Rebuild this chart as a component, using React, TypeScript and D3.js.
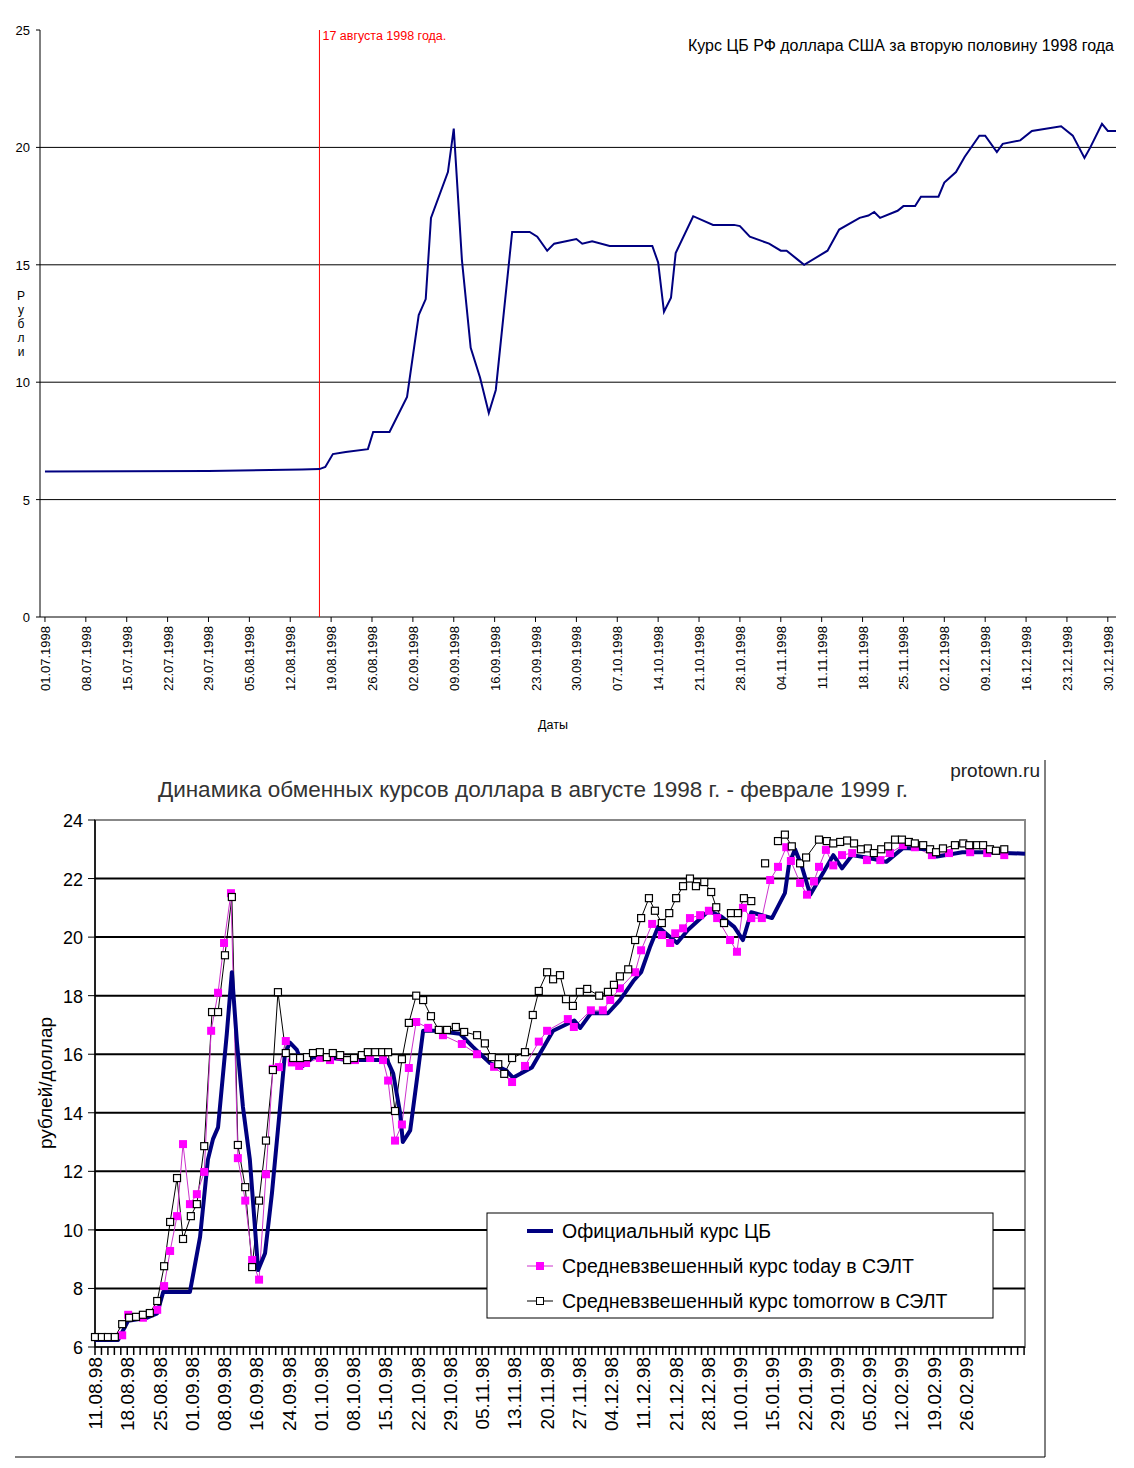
import React from 'react';
import * as d3 from 'd3';

// top chart: [days since 01.07.1998, rate]
const cbRate1998: [number, number][] = [
  [0, 6.2], [28, 6.22], [44, 6.28], [47, 6.3], [48, 6.39], [49.3, 6.94], [51.5, 7.03], [55.3, 7.15],
  [56.2, 7.88], [59, 7.88], [62, 9.37], [64, 12.86], [65.2, 13.54], [66.1, 17.0], [69, 18.95], [70, 20.8],
  [71.4, 15.2], [72.9, 11.46], [74.5, 10.2], [76, 8.69], [77.2, 9.67], [80, 16.4], [83, 16.4], [84.3, 16.2],
  [86, 15.6], [87.2, 15.9], [91, 16.1], [92, 15.9], [93.7, 16.0], [96.7, 15.8], [104, 15.8], [105, 15.1],
  [106, 13.0], [107.2, 13.6], [108, 15.5], [111, 17.07], [114.4, 16.7], [118, 16.7], [119, 16.65],
  [120.7, 16.2], [124, 15.9], [126, 15.6], [127, 15.6], [129, 15.2], [130, 15.0], [134, 15.6], [136, 16.5],
  [139.5, 17.0], [141, 17.1], [142, 17.25], [143, 17.0], [146, 17.3], [147, 17.5], [149, 17.5], [150, 17.9],
  [153, 17.9], [154, 18.5], [156, 18.95], [157.5, 19.6], [160, 20.5], [161, 20.5], [163, 19.8], [164, 20.15],
  [167, 20.3], [169, 20.7], [174, 20.9], [176, 20.5], [178, 19.55], [179, 20.0], [181, 21.0], [182, 20.7],
  [183.4, 20.7]
];
const topYTicks = [0, 5, 10, 15, 20, 25];

// bottom chart: [position in category units (7 per label), rate]
const official: [number, number][] = [
  [0, 6.24], [5, 6.24], [7.2, 6.9], [11.3, 7.0], [13.5, 7.15], [14.8, 7.88], [20.6, 7.88], [22.8, 9.76],
  [24.5, 12.4], [25.6, 13.1], [26.7, 13.5], [28.6, 16.7], [29.7, 18.8], [30.8, 16.4], [32.1, 14.2],
  [33.6, 12.4], [35.4, 8.63], [36.9, 9.2], [38.4, 11.26], [40.1, 14.1], [41.2, 16.0], [42.3, 16.4],
  [43.8, 16.15], [45.1, 15.6], [47.3, 15.9], [50.3, 15.9], [54.7, 15.8], [63.4, 15.8], [64.7, 15.35],
  [66.2, 14.0], [66.8, 13.0], [68.4, 13.4], [69.9, 15.2], [71.2, 16.8], [73.8, 16.8], [79.2, 16.7],
  [82, 16.25], [85.7, 15.7], [89.2, 15.45], [90.7, 15.2], [94.8, 15.55], [99.4, 16.8], [104, 17.15],
  [105.3, 16.9], [107.6, 17.4], [111.3, 17.4], [113.9, 17.85], [116.8, 18.5], [118.5, 18.8], [120.4, 19.65],
  [122.2, 20.35], [124.1, 20.1], [126.3, 19.8], [128.7, 20.25], [133.2, 20.9], [135.9, 20.7], [138.7, 20.35],
  [140.6, 19.9], [142.4, 20.85], [146.9, 20.65], [149.7, 21.5], [150.6, 22.5], [151.9, 23.0], [153.4, 22.4],
  [155.2, 21.45], [158, 22.2], [160.2, 22.8], [162.1, 22.35], [164.3, 22.8], [168, 22.7], [171.7, 22.57],
  [175.3, 23.04], [180.8, 23.0], [182.7, 22.75], [188.2, 22.9], [192.7, 22.9], [201.8, 22.85]
];
const today: [number, number][] = [
  [5.9, 6.4], [7.2, 7.1], [10.4, 7.0], [13.5, 7.27], [15.0, 8.08], [16.3, 9.28], [17.8, 10.47], [19.1, 12.93],
  [20.6, 10.88], [22.1, 11.22], [23.7, 11.98], [25.2, 16.8], [26.7, 18.1], [28.0, 19.8], [29.5, 21.5],
  [31.0, 12.45], [32.6, 11.0], [34.1, 8.97], [35.6, 8.3], [37.1, 11.9], [38.6, 15.5], [39.9, 15.56],
  [41.4, 16.45], [42.7, 15.72], [44.3, 15.6], [45.8, 15.7], [48.8, 15.87], [51.0, 15.8], [53.2, 15.92],
  [56.4, 15.8], [59.7, 15.87], [62.5, 15.8], [63.6, 15.1], [65.1, 13.05], [66.6, 13.6], [68.1, 15.53],
  [69.7, 17.1], [72.3, 16.9], [75.5, 16.65], [79.6, 16.35], [82.9, 16.0], [86.6, 15.57], [90.5, 15.05],
  [93.3, 15.6], [96.3, 16.43], [98.1, 16.8], [102.6, 17.2], [103.9, 16.93], [107.6, 17.5], [110.2, 17.5],
  [111.8, 17.85], [113.9, 18.25], [117.2, 18.8], [118.5, 19.55], [120.9, 20.45], [123.0, 20.07], [124.8, 19.8],
  [125.9, 20.13], [127.6, 20.3], [129.1, 20.65], [131.3, 20.75], [133.2, 20.9], [135.0, 20.65], [137.8, 19.9],
  [139.3, 19.5], [140.6, 21.0], [142.4, 20.65], [144.7, 20.65], [146.5, 21.95], [148.2, 22.4], [150.0, 23.07],
  [151.0, 22.6], [153.0, 21.85], [154.5, 21.45], [156.0, 21.9], [157.1, 22.4], [158.6, 22.98], [160.2, 22.45],
  [162.1, 22.8], [164.3, 22.87], [167.5, 22.63], [170.4, 22.63], [172.5, 22.87], [175.3, 23.14], [177.9, 23.07],
  [181.6, 22.8], [185.3, 22.87], [189.9, 22.9], [193.6, 22.87], [197.3, 22.8]
];
const tomorrow: [number, number | null][] = [
  [0, 6.34], [1.5, 6.34], [2.8, 6.34], [4.3, 6.34], [5.9, 6.78], [7.4, 7.0], [8.9, 7.03], [10.4, 7.1],
  [11.9, 7.16], [13.5, 7.57], [15.0, 8.76], [16.3, 10.27], [17.8, 11.77], [19.1, 9.69], [20.8, 10.47],
  [22.1, 10.88], [23.7, 12.86], [25.4, 17.44], [26.7, 17.44], [28.2, 19.38], [29.7, 21.37], [31.0, 12.9],
  [32.6, 11.46], [34.1, 8.73], [35.6, 11.0], [37.1, 13.05], [38.6, 15.46], [39.7, 18.12], [41.4, 16.04],
  [43.0, 15.87], [44.5, 15.87], [46.0, 15.9], [47.3, 16.04], [48.8, 16.07], [50.3, 15.9], [51.6, 16.04],
  [53.2, 15.97], [54.7, 15.8], [56.2, 15.87], [57.9, 15.97], [59.2, 16.07], [60.8, 16.07], [62.3, 16.07],
  [63.6, 16.07], [65.1, 14.06], [66.6, 15.83], [68.1, 17.07], [69.7, 18.0], [71.2, 17.85], [72.9, 17.3],
  [74.6, 16.83], [76.4, 16.83], [78.3, 16.93], [80.1, 16.76], [82.9, 16.65], [84.6, 16.37], [86.1, 15.9],
  [87.5, 15.66], [88.8, 15.33], [90.5, 15.87], [93.3, 16.07], [95.0, 17.34], [96.3, 18.16], [98.1, 18.8],
  [99.4, 18.56], [100.9, 18.7], [102.2, 17.88], [103.7, 17.65], [105.2, 18.13], [106.8, 18.23], [109.4, 18.0],
  [111.3, 18.13], [112.6, 18.37], [113.9, 18.66], [115.7, 18.9], [117.2, 19.9], [118.5, 20.65], [120.2, 21.33],
  [121.5, 20.9], [123.0, 20.48], [124.6, 20.82], [126.1, 21.33], [127.6, 21.74], [129.1, 22.0], [130.4, 21.74],
  [132.2, 21.88], [133.7, 21.54], [134.8, 21.02], [136.5, 20.48], [138.0, 20.82], [139.5, 20.82], [140.8, 21.33],
  [142.4, 21.23], [143.9, null], [145.4, 22.52], [146.8, null], [148.2, 23.28], [149.7, 23.5], [151.2, 23.1],
  [153.0, 22.52], [154.3, 22.72], [157.1, 23.33], [158.8, 23.28], [160.2, 23.2], [161.7, 23.25], [163.2, 23.3],
  [164.7, 23.2], [166.2, 23.0], [167.7, 23.03], [169.0, 22.87], [170.6, 23.0], [172.1, 23.1], [173.6, 23.33],
  [175.1, 23.33], [176.6, 23.25], [177.9, 23.2], [179.7, 23.14], [181.2, 23.0], [182.5, 22.9], [184.0, 23.03],
  [186.6, 23.14], [188.4, 23.2], [189.7, 23.14], [191.4, 23.14], [192.7, 23.14], [194.2, 23.0], [195.5, 22.95],
  [197.3, 23.0]
];
const bottomLabels = [
  '11.08.98', '18.08.98', '25.08.98', '01.09.98', '08.09.98', '16.09.98', '24.09.98', '01.10.98',
  '08.10.98', '15.10.98', '22.10.98', '29.10.98', '05.11.98', '13.11.98', '20.11.98', '27.11.98',
  '04.12.98', '11.12.98', '21.12.98', '28.12.98', '10.01.99', '15.01.99', '22.01.99', '29.01.99',
  '05.02.99', '12.02.99', '19.02.99', '26.02.99'
];
const bottomYTicks = [6, 8, 10, 12, 14, 16, 18, 20, 22, 24];
const legendLabels = ['Официальный курс ЦБ', 'Средневзвешенный курс today в СЭЛТ', 'Средневзвешенный курс tomorrow в СЭЛТ'];

const DAY = 86400000;
const base1 = new Date(1998, 6, 1).getTime();
const fmt = d3.timeFormat('%d.%m.%Y');

const App: React.FC = () => {
  // ---- top chart
  const tx = d3.scaleLinear().domain([-0.85, 183.4]).range([40, 1116]);
  const ty = d3.scaleLinear().domain([0, 25]).range([617, 30]);
  const topLine = d3.line<[number, number]>().x(d => tx(d[0])).y(d => ty(d[1]));
  const topDays = d3.range(0, 183, 7);
  const augDay = (new Date(1998, 7, 17).getTime() - base1) / DAY;

  // ---- bottom chart
  const bx = d3.scaleLinear().domain([0, 201.8]).range([95, 1025]);
  const by = d3.scaleLinear().domain([6, 24]).range([1347, 820]);
  const line2 = d3.line<[number, number | null]>()
    .defined(d => d[1] !== null)
    .x(d => bx(d[0])).y(d => by(d[1] as number));
  const tickPos = d3.range(0, 202, 1.4);

  const font = 'Arial, "Liberation Sans", sans-serif';

  return (
    <svg width={1134} height={1468} style={{ position: 'absolute', left: 0, top: 0, background: '#fff' }} fontFamily={font}>
      <rect width={1134} height={1468} fill="#fff" />
      {/* TOP */}
      {topYTicks.map(t => (
        <g key={t}>
          {t > 0 && t < 25 && <line x1={40} x2={1116} y1={ty(t)} y2={ty(t)} stroke="#000" strokeWidth={1} />}
          <line x1={36} x2={40} y1={ty(t)} y2={ty(t)} stroke="#000" />
          <text x={30} y={ty(t) + 5} fontSize={13} textAnchor="end">{t}</text>
        </g>
      ))}
      <line x1={40} x2={40} y1={30} y2={617} stroke="#000" />
      <line x1={40} x2={1116} y1={617} y2={617} stroke="#000" />
      {topDays.map(d => (
        <g key={d}>
          <line x1={tx(d)} x2={tx(d)} y1={617} y2={622} stroke="#000" />
          <text transform={`translate(${tx(d) + 5},626) rotate(-90)`} fontSize={13} textAnchor="end">
            {fmt(new Date(base1 + d * DAY))}
          </text>
        </g>
      ))}
      <line x1={tx(augDay)} x2={tx(augDay)} y1={30} y2={617} stroke="#ff0000" strokeWidth={1} />
      <text x={tx(augDay) + 3} y={40} fontSize={12.5} fill="#ff0000">17 августа 1998 года.</text>
      <path d={topLine(cbRate1998) ?? ''} fill="none" stroke="#000080" strokeWidth={2} />
      <text x={1114} y={51} fontSize={16} textAnchor="end">Курс ЦБ РФ доллара США за вторую половину 1998 года</text>
      {'Рубли'.split('').map((c, i) => (
        <text key={i} x={21} y={300 + i * 14} fontSize={12} textAnchor="middle">{c}</text>
      ))}
      <text x={553} y={729} fontSize={12.5} textAnchor="middle">Даты</text>

      {/* BOTTOM */}
      <line x1={1045} x2={1045} y1={760} y2={1457} stroke="#000" />
      <line x1={15} x2={1045} y1={1457} y2={1457} stroke="#000" />
      <text x={1040} y={777} fontSize={19} textAnchor="end" fill="#222">protown.ru</text>
      <text x={533} y={797} fontSize={22.5} textAnchor="middle" fill="#333">
        Динамика обменных курсов доллара в августе 1998 г. - феврале 1999 г.
      </text>
      <rect x={95} y={820} width={930} height={527} fill="none" stroke="#888" strokeWidth={2} />
      {bottomYTicks.map(t => (
        <g key={t}>
          {t > 6 && t < 24 && <line x1={95} x2={1025} y1={by(t)} y2={by(t)} stroke="#000" strokeWidth={2} />}
          <line x1={88} x2={95} y1={by(t)} y2={by(t)} stroke="#000" />
          <text x={83} y={by(t) + 7} fontSize={18} textAnchor="end">{t}</text>
        </g>
      ))}
      <line x1={95} x2={95} y1={820} y2={1347} stroke="#000" strokeWidth={1.5} />
      <line x1={95} x2={1025} y1={1347} y2={1347} stroke="#000" strokeWidth={1.5} />
      {tickPos.map(d => (
        <line key={d} x1={bx(d)} x2={bx(d)} y1={1347} y2={1355} stroke="#000" strokeWidth={1.5} />
      ))}
      {bottomLabels.map((l, i) => (
        <text key={l} transform={`translate(${bx(i * 7) + 7},1357) rotate(-90)`} fontSize={19} textAnchor="end">
          {l}
        </text>
      ))}
      <text transform="translate(52,1083) rotate(-90)" fontSize={19} textAnchor="middle">рублей/доллар</text>

      <path d={line2(tomorrow) ?? ''} fill="none" stroke="#000" strokeWidth={1} />
      <path d={line2(today) ?? ''} fill="none" stroke="#cc33cc" strokeWidth={1} />
      <path d={line2(official) ?? ''} fill="none" stroke="#000080" strokeWidth={4} strokeLinejoin="round" />
      {today.map((d, i) => (
        <rect key={'m' + i} x={bx(d[0]) - 4} y={by(d[1]) - 4} width={8} height={8} fill="#ff00ff" />
      ))}
      {tomorrow.filter(d => d[1] !== null).map((d, i) => (
        <rect key={'w' + i} x={bx(d[0]) - 3.5} y={by(d[1] as number) - 3.5} width={7} height={7} fill="#fff" stroke="#000" strokeWidth={1.2} />
      ))}

      {/* legend */}
      <rect x={487} y={1213} width={506} height={105} fill="#fff" stroke="#000" />
      {legendLabels.map((l, i) => {
        const y = 1231 + i * 35;
        return (
          <g key={l}>
            {i === 0 && <line x1={527} x2={553} y1={y} y2={y} stroke="#000080" strokeWidth={4} />}
            {i === 1 && <>
              <line x1={527} x2={553} y1={y} y2={y} stroke="#cc33cc" />
              <rect x={536} y={y - 4} width={8} height={8} fill="#ff00ff" />
            </>}
            {i === 2 && <>
              <line x1={527} x2={553} y1={y} y2={y} stroke="#000" />
              <rect x={536.5} y={y - 3.5} width={7} height={7} fill="#fff" stroke="#000" />
            </>}
            <text x={562} y={y + 7} fontSize={19.5}>{l}</text>
          </g>
        );
      })}
    </svg>
  );
};

export default App;
